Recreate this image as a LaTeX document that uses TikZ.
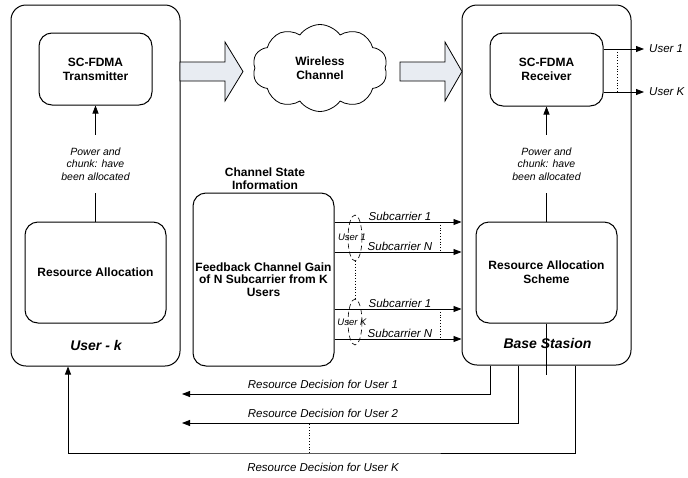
\documentclass[tikz,border=0pt]{standalone}
\usepackage{fontspec}
\setmainfont{Liberation Sans}
\usetikzlibrary{arrows.meta,shapes.geometric,shapes.symbols}
\definecolor{arrowfill}{HTML}{E8ECF2}

\begin{document}
\begin{tikzpicture}[x=1pt,y=-1pt,
    box/.style={draw,line width=1pt,rounded corners=13pt,inner sep=0pt,
      align=center,font=\bfseries\fontsize{12}{14}\selectfont},
    outer/.style={box,rounded corners=15pt},
    heading/.style={align=center,font=\bfseries\fontsize{12}{13}\selectfont},
    title/.style={font=\bfseries\itshape\fontsize{14}{16}\selectfont},
    note/.style={inner sep=1pt,font=\itshape\fontsize{11.5}{13}\selectfont},
    power/.style={align=center,inner sep=0pt,minimum height=58pt,
      font=\itshape\fontsize{10.5}{12.5}\selectfont},
    link/.style={line width=0.8pt},
    flow/.style={link,-{Triangle[length=8pt,width=6pt]}},
    fatarrow/.style={draw,line width=0.8pt,fill=arrowfill},
    group/.style={ellipse,draw,line width=0.6pt,dash pattern=on 5pt off 3pt,
      minimum width=14pt,minimum height=46pt,inner sep=0pt}]
    \useasboundingbox (0,0) rectangle (688,477);

    % user side
    \node[outer,minimum width=169pt,minimum height=361pt] (userk) at (95.5,185.5) {};
    \node[box,minimum width=113pt,minimum height=72pt] (tx) at (95.5,69)
      {SC-FDMA\\Transmitter};
    \node[box,minimum width=141pt,minimum height=101pt] (ra) at (95.5,272.5)
      {Resource Allocation};
    \node[title] (userlbl) at (96,345) {User - k};
    \node[power] (pw1) at (95.5,164) {Power and\\chunk: have\\been allocated};
    \draw[link] (ra.north) -- (pw1.south);
    \draw[flow] (pw1.north) -- (tx.south);

    % base station
    \node[outer,minimum width=169pt,minimum height=360pt] (bs) at (546.5,185) {};
    \node[box,minimum width=113pt,minimum height=73pt] (rx) at (546.5,69.5)
      {SC-FDMA\\Receiver};
    \node[box,minimum width=141pt,minimum height=101pt] (ras) at (546.5,272.5)
      {Resource Allocation\\Scheme};
    \node[title] (bslbl) at (547.5,343) {Base Stasion};
    \node[power] (pw2) at (546.5,164) {Power and\\chunk: have\\been allocated};
    \draw[link] (ras.north) -- (pw2.south);
    \draw[flow] (pw2.north) -- (rx.south);
    \draw[link] (ras.south) -- ++(0,51);

    \node[note,anchor=west] (out1) at (648,49) {User 1};
    \node[note,anchor=west] (outk) at (648,92) {User K};
    \draw[flow,shorten >=4pt] (rx.east |- out1) -- (out1.west);
    \draw[flow,shorten >=4pt] (rx.east |- outk) -- (outk.west);
    \draw[link,dotted] (617,49) -- (617,92);

    % wireless channel
    \node[cloud,draw,line width=0.8pt,cloud puffs=10,cloud puff arc=110,
      aspect=1.6,minimum width=135pt,minimum height=87pt,inner sep=0pt,
      align=center,font=\bfseries\fontsize{12}{14}\selectfont] (wc) at (320,68)
      {Wireless\\Channel};
    \draw[fatarrow] (180,62) -- (225,62) -- (225,42) -- (243,71.5) -- (225,101)
      -- (225,81) -- (180,81) -- cycle;
    \draw[fatarrow] (400,62) -- (445,62) -- (445,42) -- (462,71.5) -- (445,101)
      -- (445,81) -- (400,81) -- cycle;

    % channel state information
    \node[heading] (csi) at (265,178.5) {Channel State\\Information};
    \node[box,minimum width=141pt,minimum height=173pt,
      font=\bfseries\fontsize{12}{12.5}\selectfont] (fb) at (263.5,279.5)
      {Feedback Channel Gain\\of N Subcarrier from K\\Users};
    \foreach \y/\t [count=\i] in {222/1,252/N,309/1,339/N} {
        \coordinate (sc\i) at (0,\y);
        \draw[flow] (fb.east |- sc\i) -- (bs.west |- sc\i);
        \node[note] (sub\i) at (400,\y-6) {Subcarrier \t};
    }
    \draw[link,dotted] (440,222) -- (440,252);
    \draw[link,dotted] (440,309) -- (440,339);
    \node[group] (grp1) at (355,238) {};
    \node[group] (grpk) at (355,322) {};
    \node[note,font=\itshape\fontsize{9.5}{11}\selectfont] (usr1) at (352,237) {User 1};
    \node[note,font=\itshape\fontsize{9.5}{11}\selectfont] (usrk) at (352,322) {User K};
    \draw[link,dotted] (grp1.south) -- (grpk.north);

    % resource decisions
    \coordinate (d1) at (182,394);
    \coordinate (d2) at (182,423);
    \coordinate (dk) at (309,453);
    \draw[flow] ([xshift=-56.5pt]bs.south) |- (d1);
    \draw[flow] ([xshift=-28.5pt]bs.south) |- (d2);
    \draw[flow] ([xshift=28.5pt]bs.south) |- (dk) -| ([xshift=-27.5pt]userk.south);
    \draw[link,dotted] (dk) -- ++(0,-30);
    \node[note] (rd1) at (323,384) {Resource Decision for User 1};
    \node[note] (rd2) at (323,413) {Resource Decision for User 2};
    \node[note] (rdk) at (323,467) {Resource Decision for User K};
\end{tikzpicture}
\end{document}
